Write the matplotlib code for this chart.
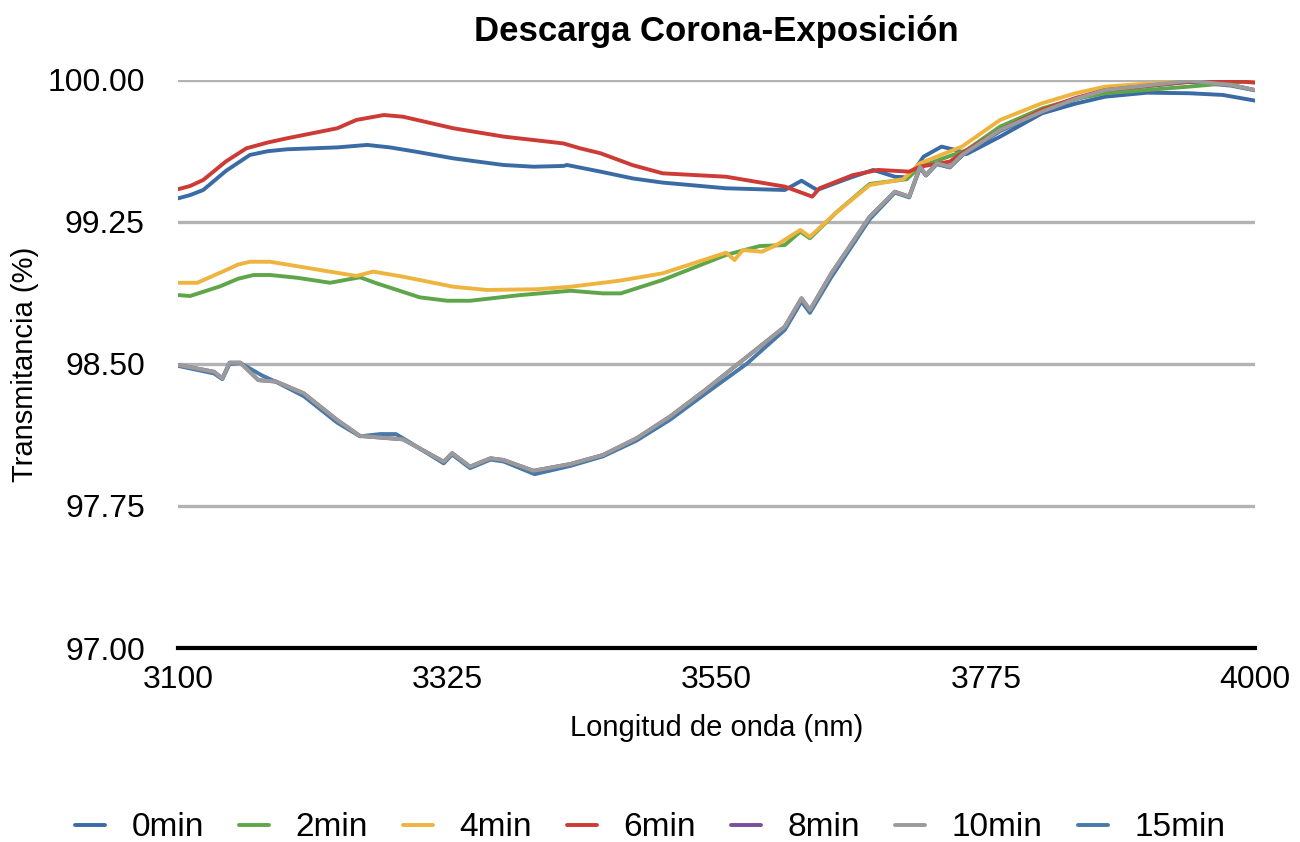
import matplotlib
matplotlib.use("Agg")
import matplotlib.pyplot as plt

plt.rcParams['font.family'] = ['Liberation Sans', 'DejaVu Sans']

# --- spectra (wavelength nm, transmittance %) ---
x_0 = [3100, 3110, 3121, 3140, 3160, 3175, 3191, 3233, 3258, 3277, 3300, 3330, 3372, 3397,
       3422, 3425, 3453, 3480, 3505, 3558, 3607, 3621, 3634, 3660, 3681, 3699, 3709, 3716,
       3723, 3738, 3752, 3759, 3787, 3822, 3850, 3875, 3910, 3945, 3973, 4000]
t_0 = [99.375, 99.392, 99.419, 99.52, 99.604, 99.624, 99.634, 99.644, 99.657, 99.644, 99.62,
       99.586, 99.551, 99.542, 99.546, 99.551, 99.516, 99.48, 99.458, 99.428, 99.419, 99.468,
       99.419, 99.48, 99.525, 99.489, 99.486, 99.53, 99.595, 99.648, 99.627, 99.609, 99.701,
       99.824, 99.875, 99.912, 99.933, 99.930, 99.921, 99.891]

x_2 = [3100, 3110, 3135, 3150, 3163, 3177, 3200, 3227, 3252, 3266, 3302, 3325, 3344, 3386,
       3428, 3455, 3470, 3505, 3558, 3586, 3607, 3620, 3628, 3650, 3678, 3709, 3720, 3759,
       3787, 3822, 3850, 3875, 3945, 4000]
t_2 = [98.864, 98.859, 98.91, 98.950, 98.970, 98.970, 98.955, 98.929, 98.958, 98.926, 98.852,
       98.834, 98.834, 98.864, 98.887, 98.873, 98.873, 98.944, 99.076, 99.123, 99.128, 99.199,
       99.164, 99.30, 99.451, 99.476, 99.542, 99.630, 99.754, 99.850, 99.900, 99.930, 99.965,
       99.996]

x_4 = [3100, 3116, 3138, 3150, 3160, 3177, 3219, 3249, 3263, 3288, 3330, 3358, 3400, 3428,
       3469, 3505, 3558, 3565, 3572, 3588, 3600, 3620, 3628, 3650, 3678, 3706, 3720, 3755,
       3787, 3822, 3850, 3875, 3945, 4000]
t_4 = [98.929, 98.929, 98.99, 99.025, 99.040, 99.040, 98.996, 98.965, 98.988, 98.961, 98.908,
       98.891, 98.895, 98.908, 98.940, 98.979, 99.088, 99.049, 99.102, 99.093, 99.128, 99.208,
       99.172, 99.30, 99.445, 99.476, 99.560, 99.648, 99.789, 99.877, 99.930, 99.965, 99.996,
       100.000]

x_6 = [3100, 3110, 3121, 3140, 3157, 3175, 3191, 3233, 3249, 3272, 3288, 3330, 3372, 3422,
       3436, 3453, 3480, 3505, 3558, 3607, 3630, 3636, 3664, 3685, 3711, 3720, 3745, 3755,
       3787, 3822, 3850, 3875, 3945, 3980, 4000]
t_6 = [99.423, 99.440, 99.472, 99.57, 99.639, 99.670, 99.692, 99.745, 99.789, 99.815, 99.806,
       99.745, 99.701, 99.665, 99.639, 99.613, 99.55, 99.507, 99.489, 99.437, 99.384, 99.428,
       99.498, 99.525, 99.516, 99.542, 99.569, 99.613, 99.736, 99.842, 99.905, 99.947, 99.991,
       99.996, 99.986]

x_10 = [3100, 3130, 3137, 3143, 3152, 3167, 3182, 3205, 3233, 3252, 3288, 3322, 3329, 3344,
        3361, 3372, 3397, 3428, 3455, 3483, 3511, 3540, 3572, 3607, 3621, 3628, 3646, 3678,
        3699, 3711, 3720, 3725, 3734, 3745, 3755, 3787, 3822, 3850, 3875, 3945, 3980, 4000]
t_10 = [98.495, 98.459, 98.424, 98.507, 98.507, 98.415, 98.407, 98.345, 98.204, 98.120, 98.102,
        97.984, 98.029, 97.958, 98.002, 97.993, 97.936, 97.972, 98.019, 98.107, 98.222, 98.36,
        98.521, 98.697, 98.847, 98.785, 98.979, 99.278, 99.410, 99.384, 99.542, 99.498, 99.560,
        99.542, 99.604, 99.736, 99.833, 99.900, 99.947, 99.996, 99.974, 99.947]

x_8 = x_10
t_8 = t_10

x_15 = [3100, 3130, 3137, 3143, 3152, 3170, 3182, 3205, 3233, 3252, 3269, 3282, 3290, 3322,
        3329, 3344, 3361, 3372, 3398, 3428, 3455, 3483, 3511, 3540, 3575, 3607, 3621, 3628,
        3646, 3678, 3699, 3711, 3720, 3725, 3734, 3745, 3755, 3787, 3822, 3850, 3875, 3945,
        3980, 4000]
t_15 = [98.490, 98.450, 98.420, 98.500, 98.505, 98.440, 98.405, 98.330, 98.190, 98.118, 98.130,
        98.130, 98.100, 97.975, 98.022, 97.950, 97.995, 97.985, 97.918, 97.962, 98.012, 98.095,
        98.205, 98.340, 98.500, 98.680, 98.830, 98.770, 98.960, 99.265, 99.405, 99.380, 99.535,
        99.495, 99.555, 99.538, 99.600, 99.730, 99.830, 99.898, 99.945, 99.990, 99.970, 99.945]

labels = ['0min', '2min', '4min', '6min', '8min', '10min', '15min']
colors = ['#3b6ba5', '#5fa64a', '#efb43f', '#cc3b35', '#7a4f9b', '#9b9b9b', '#4a78a8']
series = [(x_0, t_0), (x_2, t_2), (x_4, t_4), (x_6, t_6), (x_8, t_8), (x_10, t_10), (x_15, t_15)]
zorders = [4, 4, 4, 4, 2, 4, 3]

y_ticks = [97.00, 97.75, 98.50, 99.25, 100.00]
x_ticks = [3100, 3325, 3550, 3775, 4000]

fig = plt.figure(figsize=(13, 8.42), dpi=100)
ax = fig.add_axes([0.137, 0.2304, 0.8284, 0.6746])

for (xs, ys), lab, c, z in zip(series, labels, colors, zorders):
    ax.plot(xs, ys, color=c, lw=2.8, label=lab, zorder=z,
            solid_capstyle='round', solid_joinstyle='round')

ax.set_xlim(3100, 4000)
ax.set_ylim(97.0, 100.0)
ax.set_yticks(y_ticks)
ax.set_yticklabels([f"{v:.2f}" for v in y_ticks])
ax.set_xticks(x_ticks)
ax.set_xticklabels([str(v) for v in x_ticks])
ax.grid(axis='y', color='#b3b3b3', lw=2.4, zorder=1)
ax.set_axisbelow(True)
for s in ('top', 'right', 'left'):
    ax.spines[s].set_visible(False)
ax.spines['bottom'].set_linewidth(3)
ax.spines['bottom'].set_color('black')
ax.spines['bottom'].set_zorder(5)
ax.tick_params(axis='x', length=0, labelsize=23, pad=12)
ax.tick_params(axis='y', length=0, labelsize=23, pad=24)

ax.set_title('Descarga Corona-Exposición', fontsize=25, fontweight='bold', pad=28)
ax.set_xlabel('Longitud de onda (nm)', fontsize=21, labelpad=14)
ax.set_ylabel('Transmitancia (%)', fontsize=21, labelpad=6)

fig.legend(loc='center', bbox_to_anchor=(0.5, 0.017), ncol=7, frameon=False,
           fontsize=24, handlelength=0.9, handletextpad=0.8, columnspacing=1.05)

fig.savefig('out.png', dpi=100, facecolor='white')
